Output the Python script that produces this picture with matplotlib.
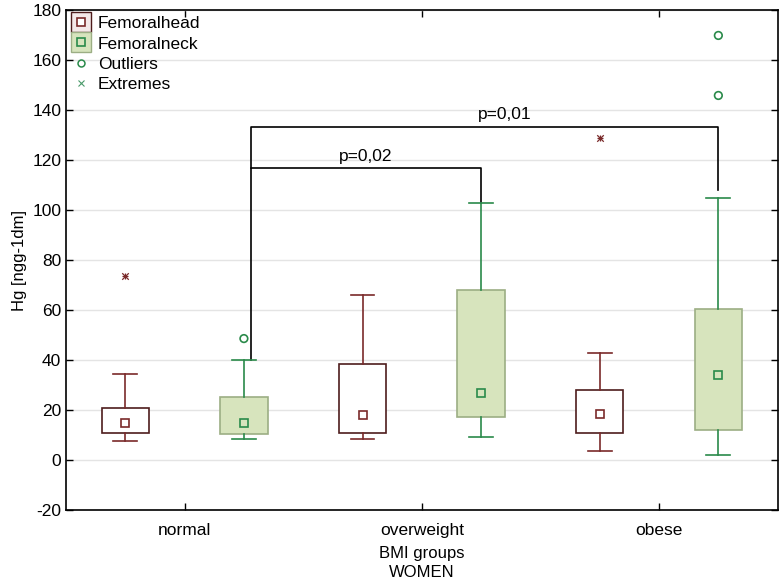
import numpy as np
import matplotlib
matplotlib.use('Agg')
import matplotlib.pyplot as plt
from matplotlib.lines import Line2D
from matplotlib.legend_handler import HandlerTuple

plt.rcParams['font.family'] = ['Liberation Sans', 'DejaVu Sans']
plt.rcParams['axes.unicode_minus'] = False

groups = ['normal', 'overweight', 'obese']

# Femoral head: whisker low, q1, median, q3, whisker high
head_lo = [7.6, 8.4, 3.8]
head_q1 = [11, 10.8, 11]
head_med = [15, 18, 18.5]
head_q3 = [21, 38.4, 28.2]
head_hi = [34.4, 66, 43]

# Femoral neck
neck_lo = [8.6, 9.2, 2.2]
neck_q1 = [10.4, 17.4, 12]
neck_med = [15, 26.8, 34]
neck_q3 = [25.4, 68, 60.4]
neck_hi = [40, 103, 105]

head_extremes = [(1, 73.6), (3, 128.8)]
neck_outliers = [(1, 48.6), (3, 169.8), (3, 145.8)]

pvals = ['p=0,02', 'p=0,01']

head_col = '#7a2a2a'
head_edge = '#4e1c1c'
neck_col = '#2a8a4a'
neck_fill = '#d7e4bd'
neck_edge = '#9cae84'

fig = plt.figure(figsize=(7.8, 5.85), dpi=100)
ax = fig.add_axes([0.0846, 0.128, 0.9124, 0.855])

x = np.arange(1, 4)
off = 0.25
w = 0.2

def stats(lo, q1, med, q3, hi):
    out = []
    for i in range(len(lo)):
        out.append(dict(whislo=lo[i], q1=q1[i], med=med[i], q3=q3[i],
                        whishi=hi[i], mean=med[i], fliers=[]))
    return out

ax.bxp(stats(head_lo, head_q1, head_med, head_q3, head_hi), positions=x - off,
       widths=w, patch_artist=True, showmeans=True, showfliers=False,
       boxprops=dict(facecolor='white', edgecolor=head_edge, linewidth=1.2),
       whiskerprops=dict(color=head_col, linewidth=1.2),
       capprops=dict(color=head_col, linewidth=1.2),
       medianprops=dict(linewidth=0),
       meanprops=dict(marker='s', markerfacecolor='white', markeredgecolor=head_col,
                      markersize=6, markeredgewidth=1.2),
       capwidths=0.1, zorder=3)

ax.bxp(stats(neck_lo, neck_q1, neck_med, neck_q3, neck_hi), positions=x + off,
       widths=w, patch_artist=True, showmeans=True, showfliers=False,
       boxprops=dict(facecolor=neck_fill, edgecolor=neck_edge, linewidth=1.2),
       whiskerprops=dict(color=neck_col, linewidth=1.2),
       capprops=dict(color=neck_col, linewidth=1.2),
       medianprops=dict(linewidth=0),
       meanprops=dict(marker='s', markerfacecolor='none', markeredgecolor=neck_col,
                      markersize=6, markeredgewidth=1.2),
       capwidths=0.1, zorder=3)

hx = [p[0] - off for p in head_extremes]
hy = [p[1] for p in head_extremes]
ax.scatter(hx, hy, marker='x', color=head_col, s=22, linewidths=0.9, zorder=4)
ax.scatter(hx, hy, marker='+', color=head_col, s=22, linewidths=0.9, zorder=4)

ox = [p[0] + off for p in neck_outliers]
oy = [p[1] for p in neck_outliers]
ax.scatter(ox, oy, marker='o', facecolor='none', edgecolor=neck_col, s=30,
           linewidths=1.2, zorder=4)

# significance brackets
bx0 = 1 + off + 0.03
ax.plot([bx0, bx0, 2 + off, 2 + off], [40, 117, 117, 103], color='black', lw=1.2, zorder=2)
ax.plot([bx0, bx0, 3 + off, 3 + off], [117, 133.2, 133.2, 108], color='black', lw=1.2, zorder=2)
ax.text((bx0 + 2 + off) / 2, 118.5, pvals[0], ha='center', va='bottom', fontsize=12.5)
ax.text(2.35, 135, pvals[1], ha='center', va='bottom', fontsize=12.5)

ax.set_xlim(0.5, 3.5)
ax.set_ylim(-20, 180)
ax.set_yticks(np.arange(-20, 181, 20))
ax.set_xticks(x)
ax.set_xticklabels(groups)
ax.yaxis.grid(True, color='#e4e4e4', linewidth=1)
ax.set_axisbelow(True)
ax.tick_params(axis='both', direction='in', length=5, labelsize=12.5,
               top=True, right=True, width=1)
ax.tick_params(axis='x', pad=9)
for s in ax.spines.values():
    s.set_linewidth(1.2)

ax.set_ylabel('Hg [ngg-1dm]', fontsize=12)
ax.set_xlabel('BMI groups\nWOMEN', fontsize=12, labelpad=6, linespacing=1.35)

h1 = (Line2D([], [], marker='s', ls='', markersize=14, markerfacecolor='#f4e8e8',
             markeredgecolor=head_edge, markeredgewidth=1),
      Line2D([], [], marker='s', ls='', markersize=6, markerfacecolor='white',
             markeredgecolor=head_col, markeredgewidth=1.2))
h2 = (Line2D([], [], marker='s', ls='', markersize=14, markerfacecolor=neck_fill,
             markeredgecolor=neck_edge, markeredgewidth=1),
      Line2D([], [], marker='s', ls='', markersize=6, markerfacecolor='none',
             markeredgecolor=neck_col, markeredgewidth=1.2))
h3 = Line2D([], [], marker='o', ls='', markersize=5, markerfacecolor='none',
            markeredgecolor=neck_col, markeredgewidth=1.1)
h4 = Line2D([], [], marker='x', ls='', markersize=5, color='#4a9a6a', markeredgewidth=0.8)
ax.legend([h1, h2, h3, h4], ['Femoralhead', 'Femoralneck', 'Outliers', 'Extremes'],
          handler_map={tuple: HandlerTuple(ndivide=1)}, loc='upper left',
          frameon=False, fontsize=12.5, handlelength=1.0, handletextpad=0.5,
          labelspacing=0.3, borderaxespad=0.15, borderpad=0.2)

fig.savefig('out.png', dpi=100)
